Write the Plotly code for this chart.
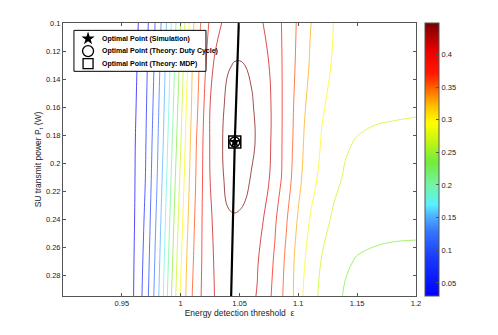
import plotly.graph_objects as go

# ------------------------------------------------------------------------
# Data (energy threshold eps vs. SU power P_t)
eps_grid = [0.90, 0.94, 0.955, 0.96, 0.965, 0.97, 0.975, 0.98, 0.985, 0.99, 0.995,
            1.00, 1.005, 1.01, 1.015, 1.02, 1.025, 1.03, 1.035, 1.04, 1.045,
            1.05, 1.055, 1.06, 1.065, 1.07, 1.075, 1.08, 1.085, 1.09, 1.095,
            1.10, 1.105, 1.11, 1.12, 1.13, 1.14, 1.15, 1.165, 1.18, 1.20]
power_grid = [0.10, 0.13, 0.16, 0.185, 0.21, 0.24, 0.27, 0.295]

thr_p100 = [0.031, 0.040, 0.048, 0.052, 0.057, 0.0724, 0.092, 0.1175, 0.1427, 0.1734, 0.2063,
            0.239, 0.2757, 0.3115, 0.3356, 0.3562, 0.3735, 0.3851, 0.3961, 0.4045, 0.4089,
            0.4099, 0.4088, 0.4061, 0.4017, 0.3958, 0.3874, 0.3792, 0.371, 0.3608, 0.3503,
            0.3398, 0.3292, 0.3187, 0.3045, 0.291, 0.287, 0.284, 0.282, 0.281, 0.280]
thr_p130 = [0.031, 0.040, 0.048, 0.0515, 0.0591, 0.0748, 0.0963, 0.1217, 0.1486, 0.1799, 0.2137,
            0.2477, 0.2849, 0.3179, 0.3404, 0.3632, 0.3865, 0.4033, 0.413, 0.4195, 0.4229,
            0.4233, 0.4217, 0.4181, 0.4126, 0.4053, 0.396, 0.3842, 0.3724, 0.3605, 0.3487,
            0.3372, 0.3259, 0.3154, 0.3004, 0.2885, 0.2845, 0.281, 0.2775, 0.275, 0.2735]
thr_p160 = [0.030, 0.039, 0.047, 0.052, 0.0615, 0.0775, 0.1011, 0.1262, 0.1543, 0.187, 0.2212,
            0.2563, 0.2929, 0.3225, 0.3455, 0.371, 0.396, 0.4064, 0.4168, 0.4302, 0.4392,
            0.4392, 0.4345, 0.4255, 0.4163, 0.4082, 0.3999, 0.3884, 0.3731, 0.3594, 0.3461,
            0.3329, 0.3196, 0.3103, 0.2935, 0.2845, 0.279, 0.2735, 0.269, 0.268, 0.267]
thr_p185 = [0.030, 0.039, 0.047, 0.0529, 0.0635, 0.0797, 0.1048, 0.13, 0.1592, 0.1933, 0.2281,
            0.2636, 0.299, 0.3271, 0.3511, 0.3747, 0.3971, 0.4082, 0.4193, 0.4383, 0.4477,
            0.4465, 0.4405, 0.4297, 0.4178, 0.4087, 0.3998, 0.3873, 0.3729, 0.3586, 0.3443,
            0.3296, 0.3157, 0.3064, 0.2894, 0.276, 0.268, 0.2635, 0.2615, 0.2608, 0.2605]
thr_p210 = [0.030, 0.039, 0.047, 0.053, 0.0655, 0.082, 0.108, 0.134, 0.165, 0.1993, 0.2354,
            0.2709, 0.3046, 0.3303, 0.3535, 0.376, 0.396, 0.4066, 0.4171, 0.4324, 0.44,
            0.4377, 0.4307, 0.4203, 0.4126, 0.4049, 0.3972, 0.3848, 0.3716, 0.3564, 0.3408,
            0.3249, 0.3118, 0.3014, 0.2846, 0.2717, 0.2625, 0.258, 0.2555, 0.254, 0.253]
thr_p240 = [0.030, 0.038, 0.047, 0.0535, 0.0682, 0.0862, 0.1128, 0.14, 0.172, 0.2072, 0.2439,
            0.2799, 0.3108, 0.3352, 0.3577, 0.3766, 0.3915, 0.4043, 0.4129, 0.4178, 0.4189,
            0.4178, 0.415, 0.4105, 0.4043, 0.3965, 0.385, 0.3733, 0.3597, 0.3454, 0.3297,
            0.3146, 0.3023, 0.2903, 0.2742, 0.2615, 0.2535, 0.249, 0.2465, 0.245, 0.2445]
thr_p270 = [0.030, 0.038, 0.047, 0.055, 0.0709, 0.0908, 0.1174, 0.1461, 0.1788, 0.216, 0.2524,
            0.2881, 0.317, 0.3403, 0.3603, 0.3765, 0.3895, 0.40, 0.4061, 0.4093, 0.4099,
            0.4089, 0.4065, 0.4027, 0.3977, 0.3885, 0.378, 0.3666, 0.3525, 0.3376, 0.3215,
            0.3068, 0.2927, 0.2823, 0.2636, 0.2527, 0.2418, 0.2375, 0.235, 0.234, 0.2335]
thr_p295 = [0.030, 0.038, 0.047, 0.056, 0.0731, 0.0945, 0.1215, 0.1511, 0.1849, 0.2229, 0.2594,
            0.2943, 0.3208, 0.3444, 0.3629, 0.3771, 0.3886, 0.3983, 0.4031, 0.4056, 0.4059,
            0.4049, 0.4029, 0.3997, 0.3948, 0.3845, 0.3743, 0.3621, 0.3486, 0.3344, 0.3199,
            0.3033, 0.2879, 0.2767, 0.259, 0.2466, 0.2365, 0.232, 0.229, 0.227, 0.226]

# optimal threshold for each power (thick black curve)
ridge_eps = [1.0494, 1.046, 1.0429]
ridge_power = [0.10, 0.185, 0.295]

# optimal point
opt_eps = [1.046]
opt_power = [0.185]

legend_names = ['Optimal Point (Simulation)', 'Optimal Point (Theory: Duty Cycle)', 'Optimal Point (Theory: MDP)']

x_ticks = [0.95, 1.0, 1.05, 1.1, 1.15, 1.2]
x_labels = ['0.95', '1', '1.05', '1.1', '1.15', '1.2']
y_ticks = [0.1, 0.12, 0.14, 0.16, 0.18, 0.2, 0.22, 0.24, 0.26, 0.28]
y_labels = ['0.1', '0.12', '0.14', '0.16', '0.18', '0.2', '0.22', '0.24', '0.26', '0.28']
cb_ticks = [0.05, 0.1, 0.15, 0.2, 0.25, 0.3, 0.35, 0.4]
cb_labels = ['0.05', '0.1', '0.15', '0.2', '0.25', '0.3', '0.35', '0.4']

z_min, z_max = 0.03, 0.448

throughput = [thr_p100, thr_p130, thr_p160, thr_p185, thr_p210, thr_p240, thr_p270, thr_p295]

# ------------------------------------------------------------------------
# jet-like colour map as seen on the colorbar
def stop(v):
    return (v - z_min) / (z_max - z_min)

cmap = [
    [0.0, 'rgb(0,0,250)'],
    [stop(0.09), 'rgb(25,60,250)'],
    [stop(0.13), 'rgb(55,120,255)'],
    [stop(0.155), 'rgb(80,185,255)'],
    [stop(0.17), 'rgb(90,240,255)'],
    [stop(0.20), 'rgb(115,245,165)'],
    [stop(0.235), 'rgb(115,235,60)'],
    [stop(0.265), 'rgb(190,245,20)'],
    [stop(0.295), 'rgb(255,255,0)'],
    [stop(0.32), 'rgb(255,195,0)'],
    [stop(0.345), 'rgb(255,110,0)'],
    [stop(0.37), 'rgb(255,25,0)'],
    [stop(0.405), 'rgb(235,0,0)'],
    [1.0, 'rgb(120,0,0)'],
]

font = 'Liberation Sans, Arial, sans-serif'
axis_col = '#555555'

fig = go.Figure()

fig.add_trace(go.Contour(x=eps_grid, y=power_grid, z=throughput,
                         colorscale=cmap, zmin=z_min, zmax=z_max,
                         contours=dict(coloring='lines', start=0.056, end=0.4221, size=0.02614),
                         line=dict(width=0.7, smoothing=1.2),
                         showscale=False, showlegend=False, hoverinfo='skip'))

fig.add_trace(go.Scatter(x=ridge_eps, y=ridge_power, mode='lines',
                         line=dict(color='black', width=2.2), showlegend=False, hoverinfo='skip'))

# colorbar carrier (invisible marker)
fig.add_trace(go.Scatter(x=opt_eps, y=opt_power, mode='markers', showlegend=False, hoverinfo='skip',
                         marker=dict(size=1, opacity=0, color=[z_max], colorscale=cmap, cmin=z_min, cmax=z_max,
                                     showscale=True,
                                     colorbar=dict(x=1.0255, xanchor='left', y=0.5, yanchor='middle',
                                                   len=1, lenmode='fraction', thickness=14,
                                                   xpad=0, ypad=0, outlinewidth=1, outlinecolor=axis_col,
                                                   tickvals=cb_ticks, ticktext=cb_labels,
                                                   ticks='inside', ticklen=3, tickcolor=axis_col,
                                                   tickfont=dict(size=7.5, color='#222', family=font)))))

symbols = [dict(symbol='star', size=9, color='black'),
           dict(symbol='circle-open', size=10, color='black', line=dict(width=1.5)),
           dict(symbol='square-open', size=12, color='black', line=dict(width=1.5))]
symbols_legend = [dict(symbol='star', size=10, color='black'),
                  dict(symbol='circle-open', size=11, color='black', line=dict(width=1.3)),
                  dict(symbol='square-open', size=10, color='black', line=dict(width=1.3))]

for name, mk in zip(legend_names, symbols):
    fig.add_trace(go.Scatter(x=opt_eps, y=opt_power, mode='markers', name=name,
                             marker=mk, showlegend=False, hoverinfo='skip'))

# compact MATLAB-style legend box on an overlay axis (plot-area fractions)
leg_x0, leg_x1, leg_y0, leg_y1 = 0.031, 0.405, 0.823, 0.973
leg_sym_x, leg_txt_x = 0.071, 0.105
leg_rows = [0.943, 0.897, 0.851]

fig.add_trace(go.Scatter(x=[leg_x0, leg_x1, leg_x1, leg_x0, leg_x0], y=[leg_y0, leg_y0, leg_y1, leg_y1, leg_y0],
                         xaxis='x2', yaxis='y2', mode='lines', fill='toself', fillcolor='white',
                         line=dict(color='black', width=1), showlegend=False, hoverinfo='skip'))
for row, mk in zip(leg_rows, symbols_legend):
    fig.add_trace(go.Scatter(x=[leg_sym_x], y=[row], xaxis='x2', yaxis='y2', mode='markers',
                             marker=mk, showlegend=False, hoverinfo='skip'))
for row, name in zip(leg_rows, legend_names):
    fig.add_annotation(xref='x domain', yref='y domain', x=leg_txt_x, y=row, xanchor='left', yanchor='middle',
                       text='<b>' + name + '</b>', showarrow=False,
                       font=dict(size=7, family=font, color='black'))

fig.update_layout(
    width=490, height=327,
    margin=dict(l=55, r=82, t=15, b=39, autoexpand=False),
    paper_bgcolor='white', plot_bgcolor='white',
    font=dict(family=font, size=8, color='#222'),
    showlegend=False,
    xaxis=dict(range=[0.9, 1.2], tickvals=x_ticks, ticktext=x_labels,
               showgrid=False, zeroline=False, showline=True, mirror='ticks',
               linecolor=axis_col, linewidth=1, ticks='inside', ticklen=3, tickcolor=axis_col,
               tickfont=dict(size=7.5),
               title=dict(text='Energy detection threshold  ε', font=dict(size=8.5), standoff=2)),
    yaxis=dict(range=[0.295, 0.1], tickvals=y_ticks, ticktext=y_labels,
               showgrid=False, zeroline=False, showline=True, mirror='ticks',
               linecolor=axis_col, linewidth=1, ticks='inside', ticklen=3, tickcolor=axis_col,
               tickfont=dict(size=7.5),
               title=dict(text='SU transmit power P<sub>t</sub> (W)', font=dict(size=8.5), standoff=2)),
    xaxis2=dict(overlaying='x', range=[0, 1], visible=False),
    yaxis2=dict(overlaying='y', range=[0, 1], visible=False),
)

fig.write_html("out.html")
